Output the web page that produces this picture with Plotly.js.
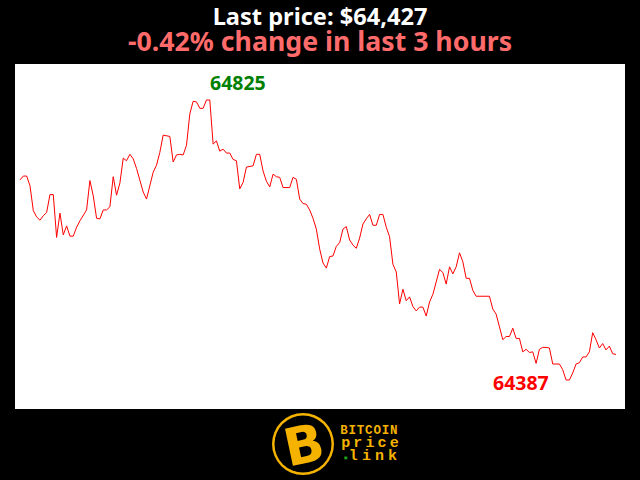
<!DOCTYPE html>
<html>
<head>
<meta charset="utf-8">
<script src="https://cdn.plot.ly/plotly-3.0.1.min.js"></script>
<style>
html,body{margin:0;padding:0;background:#000;}
#chart{width:640px;height:480px;}
.annotation[data-index="4"] .annotation-text{letter-spacing:0.8px;}
.annotation[data-index="5"] .annotation-text{letter-spacing:3.1px;}
.annotation[data-index="6"] .annotation-text{letter-spacing:4.1px;}
</style>
</head>
<body>
<div id="chart"></div>
<script>
// minute index over last 3 hours
const prices = [
64700,64706,64706,64691,64652,64642,64637,64644,64649,64677,
64677,64610,64648,64614,64628,64612,64612,64626,64636,64644,
64653,64699,64675,64640,64639,64653,64653,64658,64705,64676,
64695,64734,64730,64740,64733,64718,64699,64681,64670,64689,
64712,64723,64743,64770,64769,64768,64728,64739,64740,64739,
64754,64803,64823,64822,64812,64812,64825,64825,64756,64761,
64745,64748,64742,64742,64732,64730,64686,64696,64720,64721,
64722,64740,64740,64714,64698,64689,64709,64705,64704,64688,
64688,64688,64704,64701,64670,64663,64662,64653,64640,64623,
64592,64570,64562,64580,64581,64596,64602,64623,64627,64606,
64598,64593,64609,64631,64639,64646,64629,64629,64646,64646,
64626,64611,64568,64556,64506,64529,64511,64517,64502,64495,
64501,64501,64487,64509,64521,64541,64560,64555,64537,64564,
64553,64564,64586,64572,64546,64546,64527,64518,64518,64518,
64518,64518,64498,64490,64470,64450,64455,64455,64468,64452,
64452,64431,64435,64430,64431,64413,64435,64438,64438,64437,
64412,64412,64412,64403,64387,64387,64398,64412,64414,64423,
64423,64431,64461,64450,64437,64444,64434,64440,64428,64427
];
const minutes = prices.map((_, i) => i);
const titleLine1 = "Last price: $64,427";
const titleLine2 = "-0.42% change in last 3 hours";
const logoWords = ["BITCOIN", "price", "link"];

const maxVal = Math.max(...prices), minVal = Math.min(...prices);
const iMax = prices.indexOf(maxVal), iMin = prices.indexOf(minVal);

// pixel helpers for paper coordinates (plot area 15..625 x 64..409)
const px = x => (x - 15) / 610;
const py = y => (409 - y) / 345;

const yellow = "#f5b300";

const layout = {
  width: 640, height: 480,
  paper_bgcolor: "#000000",
  plot_bgcolor: "#ffffff",
  margin: {l: 15, r: 15, t: 64, b: 71, pad: 0},
  showlegend: false,
  xaxis: {range: [-1.5, 181.7], visible: false, fixedrange: true},
  yaxis: {range: [64341.6, 64881.3], visible: false, fixedrange: true},
  annotations: [
    {xref: "paper", yref: "paper", x: 0.5, y: py(29.5), showarrow: false,
     text: '<span style="font-size:23.6px;color:#ffffff"><b>' + titleLine1 + '</b></span><br>' +
           '<span style="font-size:26.7px;color:#ff6b6b"><b>' + titleLine2 + '</b></span>',
     font: {family: "Noto Sans", size: 20, color: "#ffffff"}, xanchor: "center", yanchor: "middle"},
    {x: minutes[iMax], y: maxVal, xref: "x", yref: "y", text: "<b>" + maxVal + "</b>", showarrow: false,
     xshift: 32, yshift: 17, font: {family: "Noto Sans", size: 19.5, color: "#008000"}},
    {x: minutes[iMin], y: minVal, xref: "x", yref: "y", text: "<b>" + minVal + "</b>", showarrow: false,
     xshift: -45, yshift: -3, font: {family: "Noto Sans", size: 19.5, color: "#ff0000"}},
    {xref: "paper", yref: "paper", x: px(304), y: py(445), text: "<b>B</b>", showarrow: false, textangle: -12,
     font: {family: "DejaVu Sans", size: 52, color: yellow}, xanchor: "center", yanchor: "middle"},
    {xref: "paper", yref: "paper", x: px(369.8), y: py(430.5), text: "<b>" + logoWords[0] + "</b>", showarrow: false,
     font: {family: "Liberation Mono", size: 12.5, color: yellow}, xanchor: "center", yanchor: "middle"},
    {xref: "paper", yref: "paper", x: px(371), y: py(443.5), text: "<b>" + logoWords[1] + "</b>", showarrow: false,
     font: {family: "Liberation Mono", size: 15, color: yellow}, xanchor: "center", yanchor: "middle"},
    {xref: "paper", yref: "paper", x: px(375.4), y: py(456.5), text: "<b>" + logoWords[2] + "</b>", showarrow: false,
     font: {family: "Liberation Mono", size: 15, color: yellow}, xanchor: "center", yanchor: "middle"}
  ],
  shapes: [
    {type: "circle", xref: "paper", yref: "paper", x0: px(272), x1: px(334), y0: py(475), y1: py(413),
     fillcolor: yellow, line: {width: 0}},
    {type: "circle", xref: "paper", yref: "paper", x0: px(274.5), x1: px(331.5), y0: py(472.5), y1: py(415.5),
     fillcolor: "#000000", line: {width: 0}},
    {type: "rect", xref: "paper", yref: "paper", x0: px(344.3), x1: px(347.3), y0: py(459.3), y1: py(456.5),
     fillcolor: "#1fa31f", line: {width: 0}}
  ]
};

Plotly.newPlot("chart", [{
  x: minutes, y: prices, type: "scatter", mode: "lines",
  line: {color: "#ff0000", width: 1}, hoverinfo: "none"
}], layout, {staticPlot: true, displayModeBar: false});
</script>
</body>
</html>
